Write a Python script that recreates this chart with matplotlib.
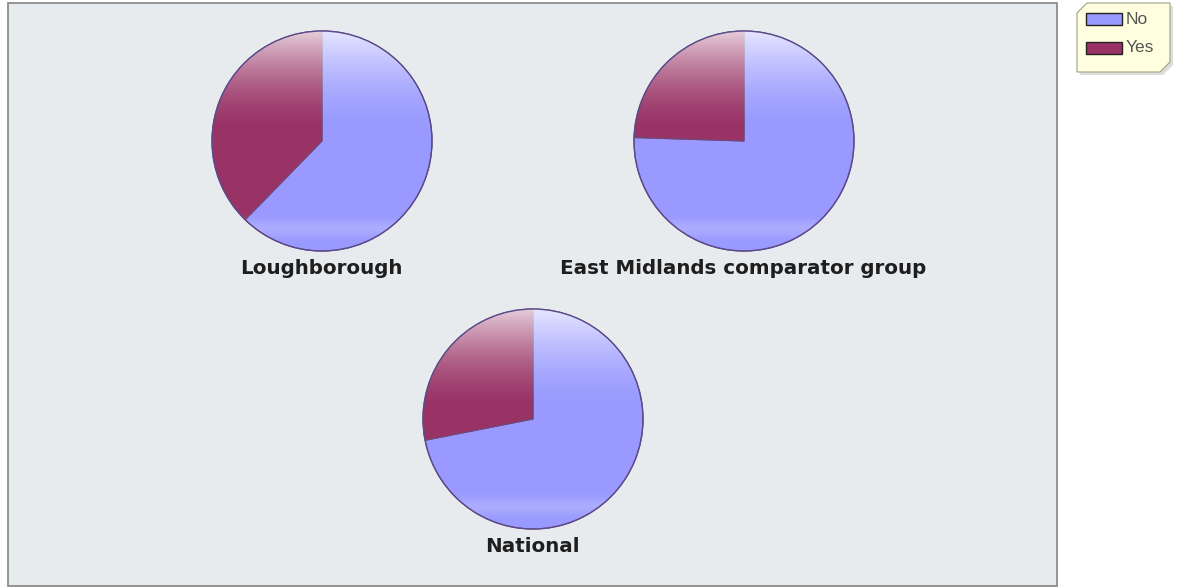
import numpy as np
import matplotlib.pyplot as plt
from matplotlib.patches import Rectangle, Polygon, Circle

# share of respondents answering No / Yes in each area
areas = ["Loughborough", "East Midlands comparator group", "National"]
answers = ["No", "Yes"]
no_pct = [62.3, 75.5, 71.9]
yes_pct = [37.7, 24.5, 28.1]

colors = ["#9999ff", "#993366"]

W, H = 1181, 588
fig = plt.figure(figsize=(W / 100, H / 100), dpi=100)
ax = fig.add_axes([0, 0, 1, 1])
ax.set_xlim(0, W)
ax.set_ylim(0, H)
ax.set_aspect("equal")
ax.axis("off")

# grey plot panel
ax.add_patch(Rectangle((8, H - 586), 1049, 583, facecolor="#e8ebee",
                       edgecolor="#8c8c8c", lw=1.3, zorder=0))

# pie positions (pixel coords, y measured from top) and radius
centres = [(322, 141), (744, 141), (533, 419)]
label_y = [268, 268, 547]
r = 110

# vertical highlight: bright at the top, fading, faint band near the bottom
t = np.linspace(0, 1, 200)
alpha = 0.75 * np.clip(1 - t / 0.45, 0, 1) ** 1.6
alpha += 0.18 * np.exp(-((t - 0.9) / 0.04) ** 2)
shade = np.ones((200, 1, 4))
shade[:, 0, 3] = alpha

for i, area in enumerate(areas):
    cx, cy = centres[i]
    cy = H - cy
    wedges, _ = ax.pie([no_pct[i], yes_pct[i]], colors=colors, startangle=90,
                       counterclock=False, center=(cx, cy), radius=r,
                       wedgeprops=dict(edgecolor="#6b4a7a", linewidth=0.8),
                       frame=True)
    img = ax.imshow(shade, extent=(cx - r, cx + r, cy - r, cy + r),
                    aspect="auto", zorder=3, interpolation="bilinear")
    img.set_clip_path(Circle((cx, cy), r, transform=ax.transData))
    ax.add_patch(Circle((cx, cy), r, fill=False, edgecolor="#5a4a8a",
                        lw=1.0, zorder=4))
    ax.text(cx - 1, H - label_y[i], area, ha="center", va="center",
            fontsize=14.3, fontweight="bold", color="#1e1e1e",
            family="DejaVu Sans")

# pie() resets the limits, put them back
ax.set_xlim(0, W)
ax.set_ylim(0, H)
ax.axis("off")

# legend box with clipped corners
x0, x1, y0, y1 = 1077, 1170, H - 72, H - 3
c = 10
ax.add_patch(Polygon([(x0 + 3, y0 - 3), (x1 - c + 3, y0 - 3), (x1 + 3, y0 + c - 3),
                      (x1 + 3, y1 - 3), (x0 + c + 3, y1 - 3), (x0 + 3, y1 - c - 3)],
                     closed=True, facecolor="#dddddd", edgecolor="none", zorder=5))
ax.add_patch(Polygon([(x0, y0), (x1 - c, y0), (x1, y0 + c), (x1, y1),
                      (x0 + c, y1), (x0, y1 - c)],
                     closed=True, facecolor="#ffffe0", edgecolor="#a0a080",
                     lw=0.8, zorder=6))
for j, name in enumerate(answers):
    yy = H - (19 + j * 29)
    ax.add_patch(Rectangle((1086, yy - 6), 36, 12, facecolor=colors[j],
                           edgecolor="#222222", lw=1.0, zorder=7))
    ax.text(1126, yy, name, ha="left", va="center", fontsize=12.5,
            color="#555555", family="Liberation Sans", zorder=7)

fig.savefig("out.png", dpi=100)
